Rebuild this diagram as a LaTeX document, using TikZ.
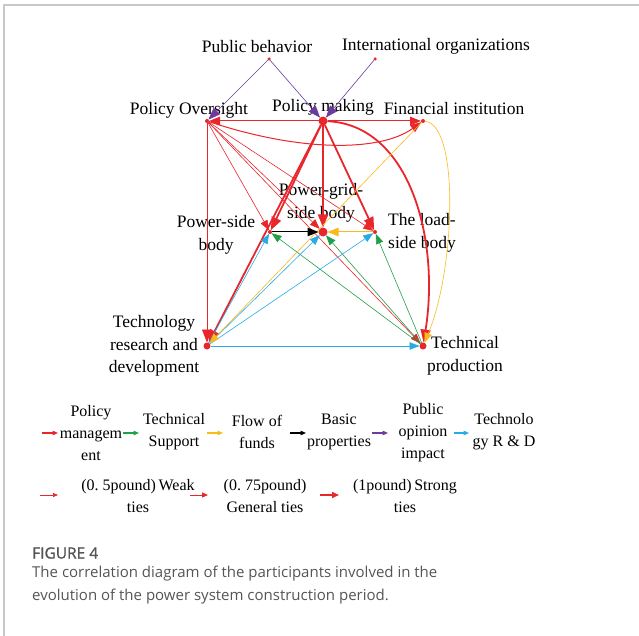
\documentclass[tikz,border=0pt]{standalone}
\usepackage{fontspec}
\setmainfont{Liberation Serif}
\newfontfamily\capfont{Open Sans}
\newfontfamily\capheadfont[FakeBold=1.2]{Open Sans}
\usetikzlibrary{arrows.meta, positioning, calc}

\definecolor{linkred}{RGB}{232,38,44}
\definecolor{linkgreen}{RGB}{34,160,72}
\definecolor{linkyellow}{RGB}{249,186,28}
\definecolor{linkpurple}{RGB}{108,58,158}
\definecolor{linkblue}{RGB}{40,170,226}
\definecolor{framegray}{RGB}{200,200,200}
\definecolor{capgray}{RGB}{85,85,85}

\begin{document}
\begin{tikzpicture}[
    x=1pt, y=-1pt,
    actor/.style={circle, fill=linkred, inner sep=0pt, outer sep=0pt, minimum size=#1},
    actor/.default=4pt,
    lbl/.style={font=\fontsize{17.5}{22.5}\selectfont, align=center, inner sep=0pt},
    legendtext/.style={font=\fontsize{16}{22}\selectfont, align=center, inner sep=0pt},
    weak/.style={line width=0.6pt, -{Triangle[length=10pt, width=7.5pt]}},
    general/.style={line width=1pt, -{Triangle[length=11pt, width=8.5pt]}},
    strong/.style={line width=1.8pt, -{Triangle[length=13pt, width=10pt]}},
    keyarrow/.style={line width=1.2pt, -{Triangle[length=5.5pt, width=4.5pt]}},
    policy/.style={linkred},
    support/.style={linkgreen},
    funds/.style={linkyellow},
    basic/.style={black},
    opinion/.style={linkpurple},
    techrd/.style={linkblue},
    ]

    \useasboundingbox (0,0) rectangle (639,636);
    \draw[framegray, line width=1.5pt] (4,640) -- (4,5) -- (645,5);

    % Participants
    \node (PB) [actor=3.5pt] at (269,59) {};
    \node (IO) [actor=3.5pt] at (375,59) {};
    \node (PO) [actor] at (207,121) {};
    \node (PM) [actor=9pt] at (323,121) {};
    \node (FI) [actor] at (423,121) {};
    \node (PS) [actor] at (270,232) {};
    \node (PG) [actor=9pt] at (323,232) {};
    \node (LS) [actor] at (375,232) {};
    \node (TRD) [actor=7pt] at (207,346) {};
    \node (TP) [actor=7pt] at (423,346) {};

    \node (PBt) [lbl] at (257,46.5) {Public behavior};
    \node (IOt) [lbl] at (436,46.5) {International organizations};
    \node (POt) [lbl] at (189,110) {Policy Oversight};
    \node (PMt) [lbl] at (323,107) {Policy making};
    \node (FIt) [lbl] at (454,109) {Financial institution};
    \node (PSt) [lbl] at (216,235) {Power-side\\body};
    \node (PGt) [lbl] at (321,203) {Power-grid-\\side body};
    \node (LSt) [lbl] at (422,233) {The load-\\side body};
    \node (TRDt) [lbl] at (154,346) {Technology\\research and\\development};
    \node (TPt) [lbl] at (465,356) {Technical\\production};

    % Public opinion impact
    \draw[opinion, weak, -{Triangle[length=12pt, width=9pt]}] (PB) -- (PO);
    \draw[opinion, weak, -{Triangle[length=12pt, width=9pt]}] (PB) -- (PM);
    \draw[opinion, weak, -{Triangle[length=12pt, width=9pt]}] (IO) -- (PM);

    % Policy management
    \draw[policy, general] (PM) -- (PO);
    \draw[policy, general] (PM) -- (FI);
    \draw[policy, general] (PO) .. controls (300,152) and (380,152) .. (FI);
    \draw[policy, strong] (PM) -- (PS);
    \draw[policy, strong] (PM) -- (TRD);
    \draw[policy, strong] (PM) -- (PG);
    \draw[policy, strong] (PM) -- (LS);
    \draw[policy, strong] (PM) .. controls (410,125) and (440,240) .. (TP);
    \draw[policy, weak] (PO) -- (PS);
    \draw[policy, weak] (PO) -- (PG);
    \draw[policy, weak] (PO) -- (LS);
    \draw[policy, weak] (PO) -- (TP);
    \draw[policy, weak, -{Triangle[length=13pt, width=10pt]}] (PO) -- (TRD);

    % Technical support
    \draw[support, weak] (TP) -- (PS);
    \draw[support, weak] (TP) -- (PG);
    \draw[support, weak] (TP) -- (LS);

    % Technology R & D
    \draw[techrd, weak] (TRD) -- (PS);
    \draw[techrd, weak] (TRD) -- (PG);
    \draw[techrd, weak] (TRD) -- (LS);
    \draw[techrd, weak] (TRD) -- (TP);

    % Flow of funds
    \draw[funds, weak] (FI) -- (TRD);
    \draw[funds, weak] (FI) .. controls (460,125) and (455,270) .. (TP);
    \draw[funds, general] (LS) -- (PG);

    % Basic properties
    \draw[basic, general] (PS) -- (PG);

    % Legend: link types
    \coordinate (K1a) at (42,433);  \coordinate (K1b) at (58,433);
    \coordinate (K2a) at (123,433); \coordinate (K2b) at (139,433);
    \coordinate (K3a) at (207,433); \coordinate (K3b) at (223,433);
    \coordinate (K4a) at (290,433); \coordinate (K4b) at (306,433);
    \coordinate (K5a) at (372,433); \coordinate (K5b) at (388,433);
    \coordinate (K6a) at (454,433); \coordinate (K6b) at (469,433);
    \draw[policy, keyarrow] (K1a) -- (K1b);
    \draw[support, keyarrow] (K2a) -- (K2b);
    \draw[funds, keyarrow] (K3a) -- (K3b);
    \draw[basic, keyarrow] (K4a) -- (K4b);
    \draw[opinion, keyarrow] (K5a) -- (K5b);
    \draw[techrd, keyarrow] (K6a) -- (K6b);

    \node (K1t) [legendtext] at (91,433) {Policy\\managem\\ent};
    \node (K2t) [legendtext] at (174,432) {Technical\\Support};
    \node (K3t) [legendtext] at (257,432) {Flow of\\funds};
    \node (K4t) [legendtext] at (339,432) {Basic\\properties};
    \node (K5t) [legendtext] at (423,433) {Public\\opinion\\impact};
    \node (K6t) [legendtext] at (504,432) {Technolo\\gy R \& D};

    % Legend: tie strength
    \coordinate (W1a) at (40,495);  \coordinate (W1b) at (58,495);
    \coordinate (W2a) at (190,495); \coordinate (W2b) at (208,495);
    \coordinate (W3a) at (320,495); \coordinate (W3b) at (339,495);
    \draw[policy, line width=0.6pt, -{Triangle[length=5pt, width=4pt]}] (W1a) -- (W1b);
    \draw[policy, line width=1pt, -{Triangle[length=6pt, width=5pt]}] (W2a) -- (W2b);
    \draw[policy, line width=1.6pt, -{Triangle[length=7pt, width=6pt]}] (W3a) -- (W3b);

    \node (W1t) [legendtext] at (138,496) {(0.\ 5pound)\,Weak\\ties};
    \node (W2t) [legendtext] at (265,496) {(0.\ 75pound)\\General ties};
    \node (W3t) [legendtext] at (405,496) {(1pound)\,Strong\\ties};

    % Caption
    \node (CapH) [anchor=west, inner sep=0pt, text=capgray, font=\capheadfont\fontsize{15.5}{18}\selectfont] at (32,553) {FIGURE 4};
    \node (CapT) [anchor=north west, inner sep=0pt, align=left, text=capgray, font=\capfont\fontsize{15}{23}\selectfont] at (32,566) {The correlation diagram of the participants involved in the\\evolution of the power system construction period.};
\end{tikzpicture}
\end{document}
